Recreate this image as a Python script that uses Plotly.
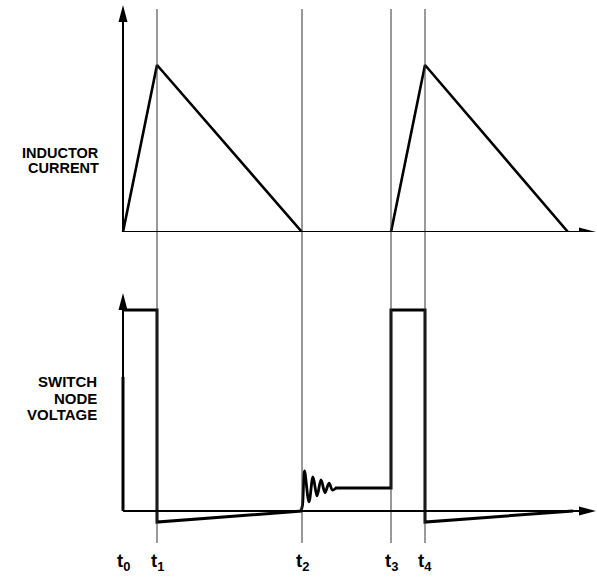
import plotly.graph_objects as go

# ---- data (time in arbitrary units, values normalised) ----
time_marks = [0, 34, 179, 268, 302]          # t0 .. t4
time_labels = ["t<sub>0</sub>", "t<sub>1</sub>", "t<sub>2</sub>", "t<sub>3</sub>", "t<sub>4</sub>"]

current_t = [0, 34, 179, None, 268, 302, 445]
current_v = [0, 1.0, 0, None, 0, 1.0, 0]

voltage_t = [0, 0, None, 0, 34, 34, 179, None, 212, 268, 268, 302, 302, 450]
voltage_v = [0, 0.667, None, 1.0, 1.0, -0.055, 0, None, 0.114, 0.114, 1.0, 1.0, -0.055, 0]

ringing_t = [178, 179.5, 181.5, 186, 190, 194, 198, 202, 206, 209.5, 213]
ringing_v = [0, 0.03, 0.199, 0.045, 0.170, 0.075, 0.155, 0.092, 0.138, 0.104, 0.114]

current_label = ["INDUCTOR", "CURRENT"]
voltage_label = ["SWITCH", "NODE", "VOLTAGE"]

W, H = 597, 578
FONT = "Liberation Sans, Arial, sans-serif"

fig = go.Figure()
fig.add_trace(go.Scatter(x=current_t, y=current_v, mode="lines", xaxis="x", yaxis="y",
                         line=dict(color="black", width=2.6), hoverinfo="skip",
                         showlegend=False))
fig.add_trace(go.Scatter(x=voltage_t, y=voltage_v, mode="lines", xaxis="x", yaxis="y2",
                         line=dict(color="black", width=3), hoverinfo="skip",
                         showlegend=False))
fig.add_trace(go.Scatter(x=ringing_t, y=ringing_v, mode="lines", xaxis="x", yaxis="y2",
                         line=dict(color="black", width=2.8, shape="spline", smoothing=1.0),
                         hoverinfo="skip", showlegend=False))

shapes = []
# time marker lines
for t in time_marks[1:]:
    shapes.append(dict(type="line", xref="x", yref="paper", x0=t, x1=t,
                       y0=0.0606, y1=0.9844, line=dict(color="#333", width=1)))
# axes
for yr, ytop_line, ytip in [("y", 1.30, 1.359), ("y2", 1.03, 1.085)]:
    shapes.append(dict(type="line", xref="x", yref=yr, x0=0, x1=463, y0=0, y1=0,
                       line=dict(color="black", width=2)))
    shapes.append(dict(type="path", xref="x", yref=yr, xsizemode="pixel", ysizemode="pixel",
                       xanchor=473, yanchor=0, path="M0,0 L-17,4.5 L-17,-4.5 Z",
                       fillcolor="black", line=dict(width=0)))
    shapes.append(dict(type="line", xref="x", yref=yr, x0=0, x1=0, y0=0, y1=ytop_line,
                       line=dict(color="black", width=2)))
    shapes.append(dict(type="path", xref="x", yref=yr, xsizemode="pixel", ysizemode="pixel",
                       xanchor=0, yanchor=ytip, path="M0,0 L-4.5,-17 L4.5,-17 Z",
                       fillcolor="black", line=dict(width=0)))

annotations = []
for t, lab in zip(time_marks, time_labels):
    annotations.append(dict(x=t, y=0.028, xref="x", yref="paper", text="<b>" + lab + "</b>",
                            showarrow=False, xanchor="center", yanchor="middle",
                            font=dict(family=FONT, size=18.5, color="black")))
for i, word in enumerate(current_label):
    annotations.append(dict(x=-22, y=0.473 - i * 0.090, xref="x", yref="y",
                            text="<b>" + word + "</b>", showarrow=False,
                            xanchor="right", yanchor="middle",
                            font=dict(family=FONT, size=14.5, color="black")))
for i, word in enumerate(voltage_label):
    annotations.append(dict(x=-24, y=0.642 - i * 0.080, xref="x", yref="y2",
                            text="<b>" + word + "</b>", showarrow=False,
                            xanchor="right", yanchor="middle",
                            font=dict(family=FONT, size=15, color="black")))

fig.update_layout(
    width=W, height=H, margin=dict(l=0, r=0, t=0, b=0),
    paper_bgcolor="white", plot_bgcolor="white",
    xaxis=dict(range=[-123, 474], domain=[0, 1], visible=False, fixedrange=True),
    yaxis=dict(range=[0, 232 / 167], domain=[346 / 578, 1], visible=False),
    yaxis2=dict(range=[-67 / 201, 261 / 201], domain=[0, 328 / 578], visible=False,
                anchor="x"),
    shapes=shapes, annotations=annotations, showlegend=False,
)

fig.write_html("out.html", config={"displayModeBar": False},
               post_script="document.body.style.margin='0';document.body.style.overflow='hidden';")
